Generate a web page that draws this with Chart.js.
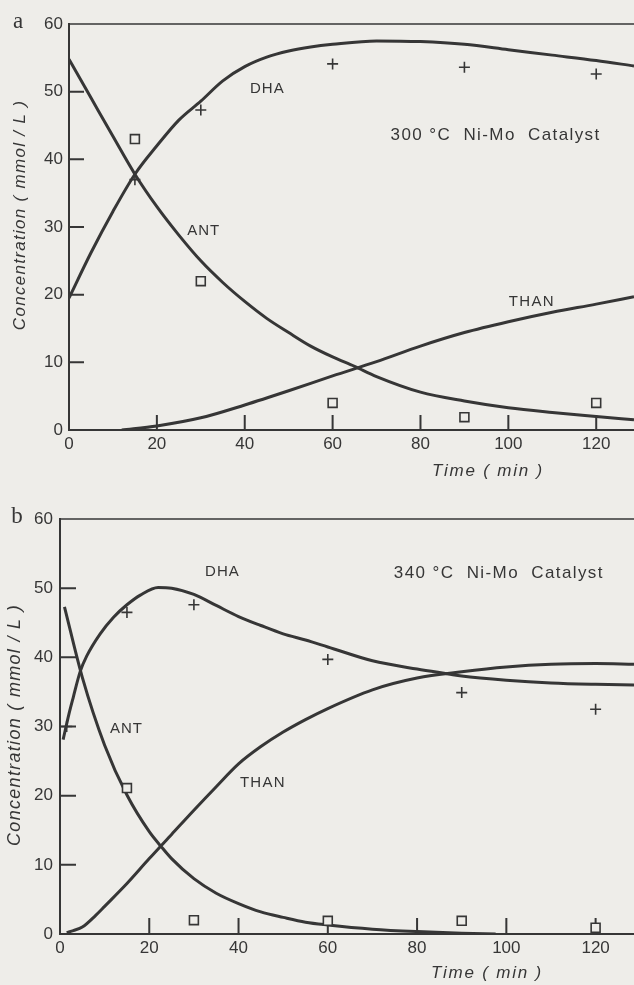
<!DOCTYPE html>
<html>
<head>
<meta charset="utf-8">
<script src="https://cdn.jsdelivr.net/npm/chart.js@4.4.1/dist/chart.umd.min.js"></script>
<style>
  html, body { margin: 0; padding: 0; background: #eeede9; }
  #wrap { position: relative; width: 634px; height: 985px; overflow: hidden; }
  canvas { position: absolute; left: 0; }
</style>
</head>
<body>
<div id="wrap">
  <canvas id="chartA" width="634" height="490" style="top:0"></canvas>
  <canvas id="chartB" width="634" height="495" style="top:490px"></canvas>
</div>
<script>
const INK = '#363636';
const PAPER = '#eeede9';
const SANS = '"Liberation Sans", Arial, sans-serif';

// ---- panel a : 300 °C, Ni-Mo catalyst ----
// measured points
const aSampleTime = [15, 30, 60, 90, 120];
const aDhaMeasured = [37.0, 47.3, 54.1, 53.6, 52.6];
const aAntMeasured = [43.0, 22.0, 4.0, 1.9, 4.0];
// model curves
const aDhaTime  = [0, 5, 10, 15, 20, 25, 30, 35, 40, 45, 50, 55, 60, 70, 80, 90, 100, 110, 120, 128.6];
const aDhaModel = [19.5, 26.2, 32.3, 37.8, 42.0, 45.8, 48.6, 51.6, 53.7, 55.1, 56.0, 56.6, 57.0, 57.5, 57.4, 57.0, 56.2, 55.4, 54.6, 53.8];
const aAntTime  = [0, 5, 10, 15, 20, 25, 30, 35, 40, 45, 50, 55, 60, 65, 70, 80, 90, 100, 110, 120, 128.6];
const aAntModel = [54.8, 49.1, 43.4, 37.8, 33.0, 28.8, 25.0, 21.8, 19.0, 16.5, 14.4, 12.4, 10.8, 9.4, 7.9, 5.6, 4.3, 3.3, 2.6, 2.0, 1.5];
const aThanTime  = [12, 20, 30, 40, 50, 60, 70, 80, 90, 100, 110, 120, 128.6];
const aThanModel = [0, 0.6, 1.8, 3.7, 5.8, 8.0, 10.1, 12.4, 14.4, 16.0, 17.4, 18.6, 19.7];

// ---- panel b : 340 °C, Ni-Mo catalyst ----
const bDhaSampleTime = [1.5, 15, 30, 60, 90, 120];
const bDhaMeasured = [30.0, 46.5, 47.6, 39.7, 34.9, 32.5];
const bAntSampleTime = [15, 30, 60, 90, 120];
const bAntMeasured = [21.1, 2.0, 1.9, 1.9, 0.9];
const bDhaTime  = [0.7, 2, 3, 4.5, 6, 9, 12, 15, 18, 22, 25, 30, 35, 40, 45, 50, 55, 60, 70, 80, 87, 90, 100, 110, 120, 128.6];
const bDhaModel = [28.1, 31.8, 34.3, 37.9, 40.2, 43.4, 45.8, 47.6, 49.0, 50.1, 50.0, 49.1, 47.5, 45.9, 44.6, 43.4, 42.5, 41.5, 39.5, 38.3, 37.6, 37.3, 36.7, 36.3, 36.1, 36.0];
const bAntTime  = [1, 5, 10, 15, 20, 22.6, 25, 30, 35, 40, 45, 50, 55, 60, 70, 80, 90, 97.6];
const bAntModel = [47.3, 37.1, 27.3, 20.1, 14.8, 12.7, 10.9, 8.0, 5.9, 4.4, 3.2, 2.4, 1.7, 1.3, 0.7, 0.35, 0.12, 0];
const bThanTime  = [1.5, 3, 5, 8, 10, 15, 20, 25, 30, 35, 40, 45, 50, 55, 60, 70, 80, 90, 100, 110, 120, 128.6];
const bThanModel = [0.2, 0.5, 1.0, 2.7, 4.0, 7.3, 10.9, 14.4, 17.9, 21.3, 24.6, 27.1, 29.2, 31.0, 32.6, 35.3, 37.0, 37.9, 38.6, 39.0, 39.1, 39.0];

const timeMax = 128.6;
const concMax = 60;

const pts = (xs, ys) => xs.map((x, i) => ({ x: x, y: ys[i] }));

function drawText(ctx, t) {
  ctx.save();
  ctx.font = t.font;
  ctx.fillStyle = INK;
  ctx.textBaseline = 'middle';
  ctx.textAlign = t.align || 'left';
  ctx.letterSpacing = (t.spacing || 0) + 'px';
  ctx.translate(t.px, t.py);
  if (t.rotate) ctx.rotate(t.rotate);
  ctx.fillText(t.text, 0, 0);
  ctx.restore();
}

// paper background, inward tick marks, frame top and the hand-set labels
const paperInk = {
  id: 'paperInk',
  beforeDraw(chart) {
    const ctx = chart.ctx;
    ctx.save();
    ctx.fillStyle = PAPER;
    ctx.fillRect(0, 0, chart.width, chart.height);
    ctx.restore();
  },
  beforeDatasetsDraw(chart, args, opts) {
    const { ctx, chartArea, scales } = chart;
    ctx.save();
    ctx.strokeStyle = INK;
    ctx.lineWidth = 2;
    ctx.beginPath();
    scales.x.ticks.forEach(t => {
      if (t.value <= 0) return;
      const px = scales.x.getPixelForValue(t.value);
      ctx.moveTo(px, chartArea.bottom);
      ctx.lineTo(px, chartArea.bottom - opts.tickLen);
    });
    scales.y.ticks.forEach(t => {
      if (t.value <= 0 || t.value >= concMax) return;
      const py = scales.y.getPixelForValue(t.value);
      ctx.moveTo(chartArea.left, py);
      ctx.lineTo(chartArea.left + opts.tickLen, py);
    });
    ctx.stroke();
    ctx.lineWidth = 1.6;
    ctx.beginPath();
    ctx.moveTo(chartArea.left, chartArea.top);
    ctx.lineTo(chart.width, chartArea.top);
    ctx.stroke();
    ctx.restore();
  },
  afterDraw(chart, args, opts) {
    const { ctx, chartArea, scales } = chart;
    opts.notes.forEach(n => drawText(ctx, {
      text: n.text, font: n.font, spacing: n.spacing,
      px: scales.x.getPixelForValue(n.x), py: scales.y.getPixelForValue(n.y)
    }));
    drawText(ctx, {
      text: 'Time ( min )', font: 'italic 17px ' + SANS, spacing: 1.8,
      px: scales.x.getPixelForValue(opts.xTitleAt), py: chartArea.bottom + opts.xTitleGap
    });
    drawText(ctx, {
      text: 'Concentration ( mmol / L )', font: 'italic ' + opts.yTitleSize + 'px ' + SANS,
      spacing: 1.3, align: 'center', rotate: -Math.PI / 2,
      px: opts.yTitlePos[0], py: opts.yTitlePos[1]
    });
    drawText(ctx, {
      text: opts.tag, font: '23px "Liberation Serif", serif',
      px: opts.tagPos[0], py: opts.tagPos[1], align: 'center'
    });
  }
};

function panel(canvasId, curves, marks, frame, ink) {
  const datasets = [];
  marks.forEach(m => datasets.push({
    data: m.data,
    pointStyle: m.style,
    pointRadius: m.style === 'rect' ? 6.3 : 5.5,
    pointBackgroundColor: PAPER,
    pointBorderColor: INK,
    pointBorderWidth: 1.6,
    showLine: false,
    order: 0
  }));
  curves.forEach(c => datasets.push({
    data: c,
    showLine: true,
    borderColor: INK,
    borderWidth: 3,
    pointRadius: 0,
    cubicInterpolationMode: 'monotone',
    order: 1
  }));
  return new Chart(document.getElementById(canvasId), {
    type: 'scatter',
    data: { datasets: datasets },
    options: {
      responsive: false,
      animation: false,
      events: [],
      layout: { autoPadding: false, padding: { top: frame.top, left: 0, right: 0, bottom: 0 } },
      scales: {
        x: {
          type: 'linear', min: 0, max: timeMax,
          grid: { display: false, drawTicks: false },
          border: { display: true, color: INK, width: 2 },
          ticks: {
            stepSize: 20, includeBounds: false, autoSkip: false, maxRotation: 0,
            padding: 4, color: INK, font: { family: SANS, size: 17 }
          },
          afterFit: s => { s.height = frame.bottom; }
        },
        y: {
          min: 0, max: concMax,
          grid: { display: false, drawTicks: false },
          border: { display: true, color: INK, width: 2 },
          ticks: {
            stepSize: 10, padding: frame.labelGap, color: INK,
            font: { family: SANS, size: 17 }
          },
          afterFit: s => { s.width = frame.left; }
        }
      },
      plugins: {
        legend: { display: false },
        tooltip: { enabled: false },
        paperInk: ink
      }
    },
    plugins: [paperInk]
  });
}

panel('chartA',
  [pts(aDhaTime, aDhaModel), pts(aAntTime, aAntModel), pts(aThanTime, aThanModel)],
  [{ style: 'cross', data: pts(aSampleTime, aDhaMeasured) },
   { style: 'rect', data: pts(aSampleTime, aAntMeasured) }],
  { top: 24, bottom: 60, left: 69, labelGap: 6 },
  {
    tickLen: 15,
    notes: [
      { text: 'DHA', x: 41.2, y: 50.4, font: '15px ' + SANS, spacing: 1 },
      { text: 'ANT', x: 26.9, y: 29.4, font: '15px ' + SANS, spacing: 1 },
      { text: 'THAN', x: 100.1, y: 18.9, font: '15px ' + SANS, spacing: 1.3 },
      { text: '300 °C  Ni-Mo  Catalyst', x: 73.2, y: 43.6, font: '17px ' + SANS, spacing: 1.4 }
    ],
    xTitleAt: 82.6, xTitleGap: 41,
    yTitleSize: 17, yTitlePos: [20, 215],
    tag: 'a', tagPos: [18, 22]
  });

panel('chartB',
  [pts(bDhaTime, bDhaModel), pts(bAntTime, bAntModel), pts(bThanTime, bThanModel)],
  [{ style: 'cross', data: pts(bDhaSampleTime, bDhaMeasured) },
   { style: 'rect', data: pts(bAntSampleTime, bAntMeasured) }],
  { top: 29, bottom: 51, left: 60, labelGap: 7 },
  {
    tickLen: 16,
    notes: [
      { text: 'DHA', x: 32.5, y: 52.4, font: '15px ' + SANS, spacing: 1 },
      { text: 'ANT', x: 11.2, y: 29.6, font: '15px ' + SANS, spacing: 1 },
      { text: 'THAN', x: 40.3, y: 21.9, font: '15px ' + SANS, spacing: 1.3 },
      { text: '340 °C  Ni-Mo  Catalyst', x: 74.8, y: 52.1, font: '17px ' + SANS, spacing: 1.4 }
    ],
    xTitleAt: 83.1, xTitleGap: 39,
    yTitleSize: 18, yTitlePos: [15, 235],
    tag: 'b', tagPos: [17, 27]
  });
</script>
</body>
</html>
